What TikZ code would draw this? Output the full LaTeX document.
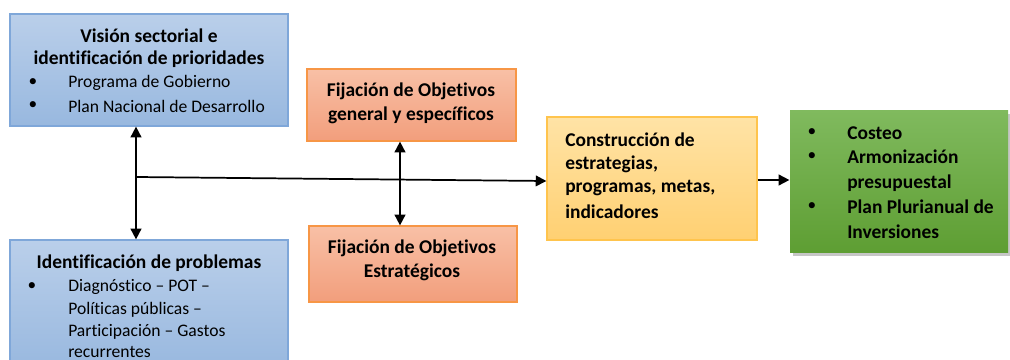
\documentclass[tikz,border=0pt]{standalone}
\usepackage{fontspec}
\setmainfont{Carlito}[Ligatures=NoCommon]
\usetikzlibrary{shadows,arrows.meta}
\definecolor{bluetop}{HTML}{BACFEA}
\definecolor{bluebot}{HTML}{98B8DF}
\definecolor{blueline}{HTML}{7FA7D9}
\definecolor{ortop}{HTML}{F8C0A6}
\definecolor{orbot}{HTML}{F29E7C}
\definecolor{orline}{HTML}{F79646}
\definecolor{yetop}{HTML}{FFE3A6}
\definecolor{yebot}{HTML}{FFD072}
\definecolor{yeline}{HTML}{FFC44D}
\definecolor{grtop}{HTML}{80BA5E}
\definecolor{grbot}{HTML}{5E9E33}
\tikzset{
  box/.style={rectangle, inner sep=0pt, line width=0.9pt},
  bluebox/.style={box, draw=blueline, top color=bluetop, bottom color=bluebot},
  orbox/.style={box, draw=orline, top color=ortop, bottom color=orbot},
  yebox/.style={box, draw=yeline, top color=yetop, bottom color=yebot},
  grbox/.style={box, top color=grtop, bottom color=grbot, drop shadow={opacity=0.45, shadow xshift=2.5pt, shadow yshift=-3pt}},
  ttl/.style={inner sep=0pt, font=\fontsize{14.6}{17}\selectfont\bfseries, anchor=center},
  itm/.style={inner sep=0pt, font=\fontsize{13.2}{15}\selectfont, anchor=west},
  bitm/.style={inner sep=0pt, font=\fontsize{14.6}{17}\selectfont\bfseries, anchor=west},
  bul/.style={inner sep=0pt, font=\fontsize{13}{15}\selectfont, anchor=center},
  conn/.style={line width=1.3pt, -{Triangle[length=8pt,width=8pt]}},
  dconn/.style={line width=1.3pt, {Triangle[length=8pt,width=8pt]}-{Triangle[length=8pt,width=8pt]}}
}
\begin{document}
\begin{tikzpicture}[x=0.75pt,y=-0.75pt]
\useasboundingbox (0,0) rectangle (1010,360);
\clip (0,0) rectangle (1010,360);
% boxes
\node[bluebox, minimum width=278*0.75pt, minimum height=112*0.75pt] (vis) at (149,70) {};
\node[bluebox, minimum width=278*0.75pt, minimum height=130*0.75pt] (ide) at (149,305) {};
\node[orbox, minimum width=209*0.75pt, minimum height=72*0.75pt] (fog) at (411.5,105) {};
\node[orbox, minimum width=208*0.75pt, minimum height=76*0.75pt] (foe) at (413,264) {};
\node[yebox, minimum width=210*0.75pt, minimum height=123*0.75pt] (con) at (652,178.5) {};
\node[grbox, minimum width=218*0.75pt, minimum height=142*0.75pt] (cos) at (899,181) {};
% texts box 1
\node[ttl] (t1a) at (149,36) {Visión sectorial e};
\node[ttl] (t1b) at (149,59) {identificación de prioridades};
\node[bul] (b1a) at (33,83) {•};
\node[itm] (i1a) at (68,83) {Programa de Gobierno};
\node[bul] (b1b) at (33,106) {•};
\node[itm] (i1b) at (68,106) {Plan Nacional de Desarrollo};
% texts box 2
\node[ttl] (t2a) at (149,263) {Identificación de problemas};
\node[bul] (b2a) at (32,287) {•};
\node[itm] (i2a) at (68,287) {Diagnóstico – POT –};
\node[itm] (i2b) at (68,310) {Políticas públicas –};
\node[itm] (i2c) at (68,332) {Participación – Gastos};
\node[itm] (i2d) at (68,352) {recurrentes};
% orange texts
\node[ttl] (t3a) at (411,91) {Fijación de Objetivos};
\node[ttl] (t3b) at (411,115) {general y específicos};
\node[ttl] (t4a) at (412,248) {Fijación de Objetivos};
\node[ttl] (t4b) at (412,272) {Estratégicos};
% yellow texts
\node[bitm] (t5a) at (565,140) {Construcción de};
\node[bitm] (t5b) at (565,164) {estrategias,};
\node[bitm] (t5c) at (565,188) {programas, metas,};
\node[bitm] (t5d) at (565,212) {indicadores};
% green texts
\node[bul] (b6a) at (812,133) {•};
\node[bitm] (t6a) at (847,133) {Costeo};
\node[bul] (b6b) at (812,157) {•};
\node[bitm] (t6b) at (847,157) {Armonización};
\node[bitm] (t6c) at (847,183) {presupuestal};
\node[bul] (b6c) at (812,207) {•};
\node[bitm] (t6d) at (847,207) {Plan Plurianual de};
\node[bitm] (t6e) at (847,232) {Inversiones};
% connectors
\draw[dconn] (vis.south -| 136,0) -- (ide.north -| 136,0);
\coordinate (j) at (136,177);
\coordinate (yin) at (con.west |- 0,181);
\draw[conn] (j) -- (yin);
\draw[dconn] (fog.south -| 400,0) -- (foe.north -| 400,0);
\draw[conn] (con.east |- 0,180) -- (cos.west |- 0,180);
\end{tikzpicture}
\end{document}
